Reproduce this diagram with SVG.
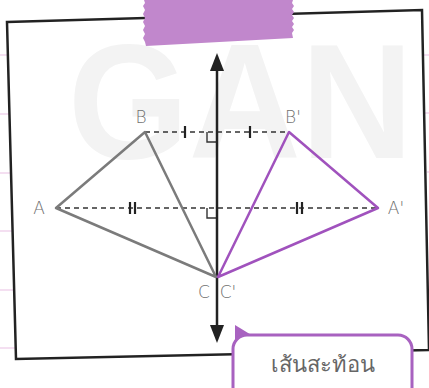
<svg xmlns="http://www.w3.org/2000/svg" width="429" height="388" viewBox="0 0 429 388">
<defs>
<style>
.pink{stroke:#f0d4ec;stroke-width:1.5}
.lbl{font-family:"DejaVu Sans","Liberation Sans",sans-serif;font-weight:200;font-size:17px;fill:#707070}
.dash{stroke:#333;stroke-width:1.5;stroke-dasharray:5 4;fill:none}
.tick{stroke:#222;stroke-width:2.2}
.ra{fill:none;stroke:#333;stroke-width:1.4}
.gray{fill:none;stroke:#7b7b7b;stroke-width:2.5;stroke-linejoin:round}
.purp{fill:none;stroke:#a052bd;stroke-width:2.5;stroke-linejoin:round}
</style>
</defs>
<rect width="429" height="388" fill="#fff"/>
<g id="background-lines">
<line class="pink" x1="0" y1="55" x2="8" y2="55"/>
<line class="pink" x1="0" y1="114" x2="10" y2="114"/>
<line class="pink" x1="0" y1="173" x2="12" y2="173"/>
<line class="pink" x1="0" y1="231" x2="13" y2="231"/>
<line class="pink" x1="0" y1="290" x2="14" y2="290"/>
<line class="pink" x1="0" y1="348" x2="16" y2="348"/>
<line class="pink" x1="423" y1="55" x2="429" y2="55"/>
<line class="pink" x1="425" y1="113" x2="429" y2="113"/>
<line class="pink" x1="427" y1="172" x2="429" y2="172"/>
</g>
<g id="paper">
<polygon points="7,22 422,10 429,350 16,359" fill="#fff" stroke="#222" stroke-width="2.5" stroke-linejoin="miter"/>
</g>
<g id="watermark">
<text x="68" y="158" font-family="Liberation Sans, sans-serif" font-weight="bold" font-size="164" fill="#f3f3f3" textLength="345" lengthAdjust="spacingAndGlyphs">GAN</text>
</g>
<g id="tape">
<polygon points="144,0 293,0 292,3 294,6 292,9 294,12 292,15 294,18 292,21 294,24 292,27 294,30 292,33 293,38 146,46 145,42 143,38 145,34 143,30 145,26 143,22 145,18 143,14 145,10 143,6 145,3" fill="#c187cc"/>
</g>
<g id="connectors">
<line class="dash" x1="145" y1="132" x2="289" y2="132"/>
<line class="dash" x1="56" y1="208" x2="378" y2="208"/>
<line class="tick" x1="185" y1="126" x2="185" y2="138"/>
<line class="tick" x1="250" y1="126" x2="250" y2="138"/>
<line class="tick" x1="130" y1="202" x2="130" y2="214"/>
<line class="tick" x1="135" y1="202" x2="135" y2="214"/>
<line class="tick" x1="297" y1="202" x2="297" y2="214"/>
<line class="tick" x1="302" y1="202" x2="302" y2="214"/>
<polyline class="ra" points="207,132 207,142 217,142"/>
<polyline class="ra" points="207,208 207,218 217,218"/>
</g>
<g id="axis">
<line x1="217" y1="70" x2="217" y2="326" stroke="#222" stroke-width="2.5"/>
<polygon points="217,53 210,71 224,71" fill="#222"/>
<polygon points="217,343 210,325 224,325" fill="#222"/>
</g>
<g id="triangle-ABC">
<polygon class="gray" points="56,208 145,132 216,277"/>
</g>
<g id="triangle-A2B2C2">
<polygon class="purp" points="378,208 289,132 218,277"/>
</g>
<g id="labels">
<text class="lbl" x="141" y="123" text-anchor="middle">B</text>
<text class="lbl" x="293" y="123" text-anchor="middle">B'</text>
<text class="lbl" x="39" y="214" text-anchor="middle">A</text>
<text class="lbl" x="396" y="214" text-anchor="middle">A'</text>
<text class="lbl" x="204" y="298" text-anchor="middle">C</text>
<text class="lbl" x="228" y="298" text-anchor="middle">C'</text>
</g>
<g id="callout">
<polygon points="235,325 235,341 253,336" fill="#a862c0"/>
<rect x="233" y="335" width="179" height="70" rx="14" fill="#fff" stroke="#a862c0" stroke-width="3"/>
<text x="323" y="372" text-anchor="middle" font-family="Noto Sans, DejaVu Sans, sans-serif" font-size="22" font-weight="300" fill="#666">เส้นสะท้อน</text>
</g>
</svg>
